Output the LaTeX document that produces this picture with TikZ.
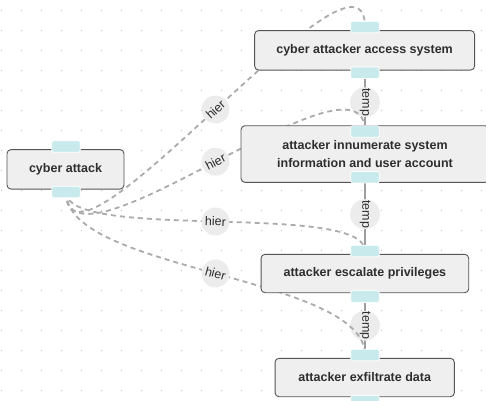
\documentclass[tikz,border=0pt]{standalone}
\usepackage{fontspec}
\setmainfont{Liberation Sans}
\usetikzlibrary{calc}
\definecolor{nodefill}{HTML}{EFEFEF}
\definecolor{nodedraw}{HTML}{555555}
\definecolor{portfill}{HTML}{C9EAED}
\definecolor{hiercol}{HTML}{ABABAB}
\definecolor{tempcol}{HTML}{9E9E9E}
\definecolor{lblfill}{HTML}{ECECEC}
\definecolor{txtcol}{HTML}{2E2E2E}
\definecolor{dotcol}{HTML}{C4C4C4}
\pgfdeclarelayer{bg}
\pgfdeclarelayer{tempedge}
\pgfdeclarelayer{hieredge}
\pgfsetlayers{bg,tempedge,hieredge,main}
\tikzset{
  box/.style={draw=nodedraw, fill=nodefill, line width=0.9pt, rounded corners=4pt,
    inner sep=0pt, text=txtcol, align=center,
    font=\fontsize{12.5}{18.5}\selectfont\bfseries},
  port/.style={draw=white, fill=portfill, line width=0.7pt, rounded corners=2pt,
    minimum width=28.5pt, minimum height=11.5pt, inner sep=0pt},
  hieredge/.style={draw=hiercol, line width=1.8pt, dash pattern=on 5pt off 4pt},
  tempedge/.style={draw=tempcol, line width=1.5pt},
  lbl/.style={circle, fill=lblfill, minimum size=28pt, inner sep=0pt, text=txtcol,
    font=\fontsize{12.5}{14}\selectfont},
}
\begin{document}
\begin{tikzpicture}[x=1pt,y=-1pt]
\useasboundingbox (0,0) rectangle (486,400);
\begin{pgfonlayer}{bg}
\fill[white] (0,0) rectangle (486,400);
\foreach \i in {0,...,24}{
  \foreach \j in {0,...,19}{
    \fill[dotcol] (1.5+20*\i,10.5+20*\j) circle (0.65);
  }
}
\end{pgfonlayer}

% nodes
\node[box, minimum width=117pt, minimum height=39.5pt] (n1) at (65.5,169.3) {cyber attack};
\node[box, minimum width=220pt, minimum height=39.5pt] (n2) at (364.6,50.3) {cyber attacker access system};
\node[box, minimum width=248pt, minimum height=56.6pt] (n3) at (365,154) {attacker innumerate system\\information and user account};
\node[box, minimum width=207.7pt, minimum height=38.4pt] (n4) at (364.9,273.5) {attacker escalate privileges};
\node[box, minimum width=179.3pt, minimum height=38.4pt] (n5) at (364.7,377.5) {attacker exfiltrate data};

% ports
\node[port] (p1t) at (66,146.4) {};
\node[port] (p1b) at (66,192) {};
\node[port] (p2t) at (365,27) {};
\node[port] (p2b) at (365,72.8) {};
\node[port] (p3t) at (365,131.5) {};
\node[port] (p3b) at (365,177.2) {};
\node[port] (p4t) at (365,251) {};
\node[port] (p4b) at (365,296.5) {};
\node[port] (p5t) at (365,355) {};
\node[port] (p5b) at (365,401) {};

% temp edges
\begin{pgfonlayer}{tempedge}
\draw[tempedge] (p2b) -- (p3t) node[lbl, midway, rotate=-90] {temp};
\draw[tempedge] (p3b) -- (p4t) node[lbl, midway, rotate=-90] {temp};
\draw[tempedge] (p4b) -- (p5t) node[lbl, midway, rotate=-90] {temp};
\end{pgfonlayer}

% hier edges
\begin{pgfonlayer}{hieredge}
\draw[hieredge] (p1b.center) .. controls ($(p1b.center)+(0,110)$) and ($(p2t.center)+(0,-110)$) .. (p2t.center)
  node[lbl, pos=0.5, sloped, draw=none] {hier};
\draw[hieredge] (p1b.center) .. controls ($(p1b.center)+(0,95)$) and ($(p3t.center)+(0,-95)$) .. (p3t.center)
  node[lbl, pos=0.5, sloped, draw=none] {hier};
\draw[hieredge] (p1b.center) .. controls ($(p1b.center)+(0,50)$) and ($(p4t.center)+(0,-50)$) .. (p4t.center)
  node[lbl, pos=0.5, sloped, draw=none] {hier};
\draw[hieredge] (p1b.center) .. controls ($(p1b.center)+(0,80)$) and ($(p5t.center)+(0,-80)$) .. (p5t.center)
  node[lbl, pos=0.5, sloped, draw=none] {hier};
\end{pgfonlayer}
\end{tikzpicture}
\end{document}
